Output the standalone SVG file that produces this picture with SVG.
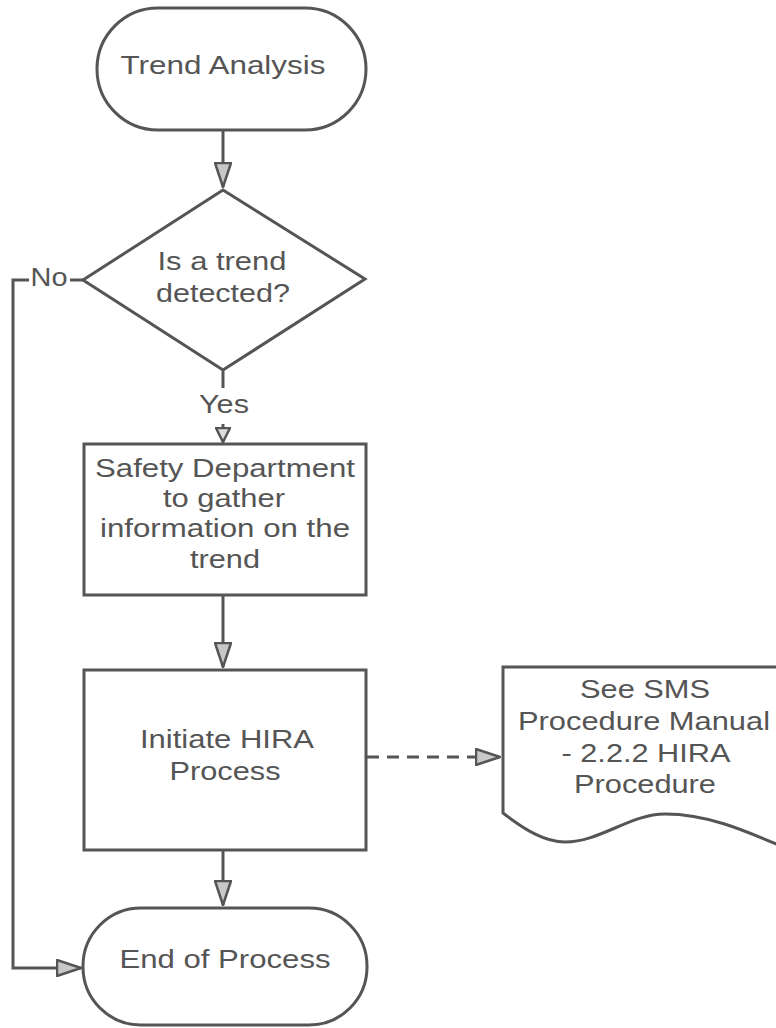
<svg xmlns="http://www.w3.org/2000/svg" width="776" height="1028" viewBox="0 0 776 1028">
<style>
.s{fill:#fff;stroke:#555;stroke-width:3}
.t{font-family:"Liberation Sans",Arial,sans-serif;font-size:25px;fill:#555;text-anchor:middle}
.c{fill:none;stroke:#555;stroke-width:3}
.d{fill:none;stroke:#555;stroke-width:3;stroke-dasharray:12 8}
</style>
<defs>
<marker id="ah" markerUnits="userSpaceOnUse" viewBox="0 0 26 18" refX="25" refY="9" markerWidth="26" markerHeight="18" orient="auto">
<path d="M1,1 L25,9 L1,17 Z" fill="#c8c8c8" stroke="#555" stroke-width="2.5" stroke-linejoin="round"/>
</marker>
<marker id="ahs" markerUnits="userSpaceOnUse" viewBox="0 0 16 16" refX="15" refY="8" markerWidth="16" markerHeight="16" orient="auto">
<path d="M1,1 L15,8 L1,15 Z" fill="#ddd" stroke="#555" stroke-width="2.5" stroke-linejoin="round"/>
</marker>
</defs>
<g id="connectors">
<path class="c" d="M223,131 V187" marker-end="url(#ah)"/>
<path class="c" d="M223,370 V442" marker-end="url(#ahs)"/>
<rect x="195" y="388" width="58" height="36" fill="#fff"/>
<text class="t" x="224" y="413" textLength="50" lengthAdjust="spacingAndGlyphs">Yes</text>
<path class="c" d="M223,596 V667" marker-end="url(#ah)"/>
<path class="c" d="M223,851 V905" marker-end="url(#ah)"/>
<path class="c" d="M83,280 H13 V968 H81" marker-end="url(#ah)"/>
<rect x="29" y="266" width="41" height="26" fill="#fff"/>
<text class="t" x="49" y="286" textLength="37" lengthAdjust="spacingAndGlyphs">No</text>
<path class="d" d="M367,757 H500" marker-end="url(#ah)"/>
</g>
<g id="trend-analysis">
<rect class="s" x="97" y="8" width="269" height="122" rx="61"/>
<text class="t" x="223" y="74" textLength="205" lengthAdjust="spacingAndGlyphs">Trend Analysis</text>
</g>
<g id="trend-detected">
<polygon class="s" points="223,190 365,279 223,370 83,280"/>
<text class="t" x="222" y="270" textLength="129" lengthAdjust="spacingAndGlyphs">Is a trend</text>
<text class="t" x="223" y="302" textLength="134" lengthAdjust="spacingAndGlyphs">detected?</text>
</g>
<g id="gather-info">
<rect class="s" x="84" y="444" width="282" height="151"/>
<text class="t" x="225" y="477" textLength="260" lengthAdjust="spacingAndGlyphs">Safety Department</text>
<text class="t" x="224" y="507" textLength="122" lengthAdjust="spacingAndGlyphs">to gather</text>
<text class="t" x="225" y="537" textLength="250" lengthAdjust="spacingAndGlyphs">information on the</text>
<text class="t" x="225" y="568" textLength="70" lengthAdjust="spacingAndGlyphs">trend</text>
</g>
<g id="initiate-hira">
<rect class="s" x="84" y="670" width="282" height="180"/>
<text class="t" x="227" y="748" textLength="174" lengthAdjust="spacingAndGlyphs">Initiate HIRA</text>
<text class="t" x="225" y="780" textLength="111" lengthAdjust="spacingAndGlyphs">Process</text>
</g>
<g id="sms-manual">
<path class="s" d="M503,667 L503,813 C525,830 545,842 565,842 C600,842 630,814 665,814 C705,814 740,828 790,850 L790,667 Z"/>
<text class="t" x="645" y="698" textLength="130" lengthAdjust="spacingAndGlyphs">See SMS</text>
<text class="t" x="644" y="730" textLength="252" lengthAdjust="spacingAndGlyphs">Procedure Manual</text>
<text class="t" x="646" y="762" textLength="169" lengthAdjust="spacingAndGlyphs">- 2.2.2 HIRA</text>
<text class="t" x="645" y="793" textLength="142" lengthAdjust="spacingAndGlyphs">Procedure</text>
</g>
<g id="end-process">
<rect class="s" x="83" y="908" width="284" height="117" rx="58"/>
<text class="t" x="225" y="968" textLength="211" lengthAdjust="spacingAndGlyphs">End of Process</text>
</g>
</svg>
